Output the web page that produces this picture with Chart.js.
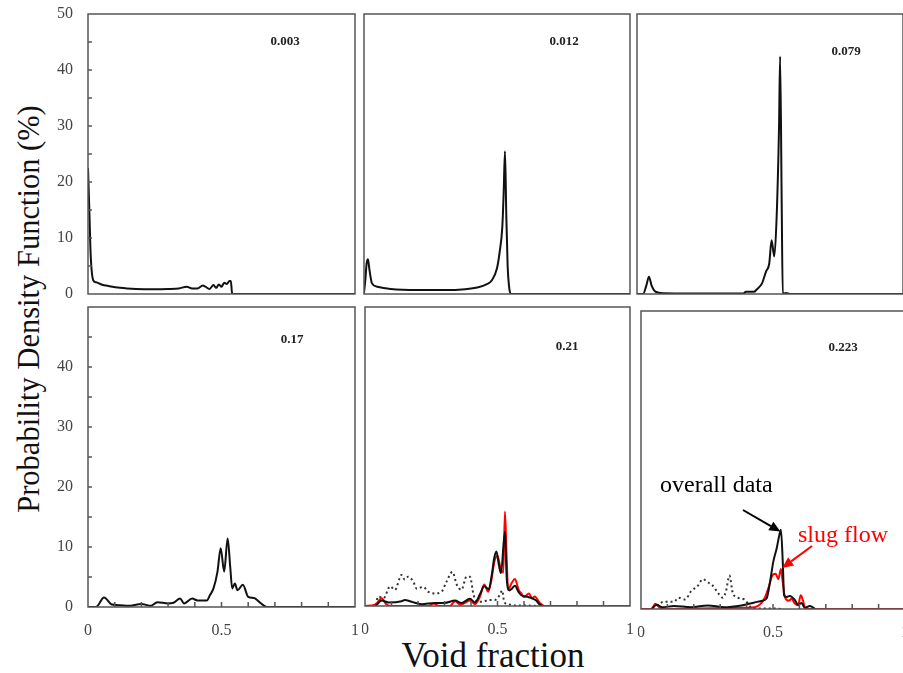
<!DOCTYPE html>
<html>
<head>
<meta charset="utf-8">
<script src="https://cdn.jsdelivr.net/npm/chart.js@4"></script>
<style>
    body { margin: 0; width: 903px; height: 673px; overflow: hidden; background: #fff; position: relative; font-family: "Liberation Serif", "Times New Roman", serif; }
    canvas { position: absolute; }
    #ytitle { position: absolute; left: -181px; top: 291px; width: 420px; height: 36px; line-height: 36px; font-size: 30.5px; text-align: center; color: #111; transform: rotate(-90deg); white-space: nowrap; }
    #xtitle { position: absolute; left: 343px; top: 638px; width: 300px; line-height: 35px; font-size: 35px; text-align: center; color: #111; white-space: nowrap; }
</style>
</head>
<body>
<div id="ytitle">Probability Density Function (%)</div>
<div id="xtitle">Void fraction</div>
<script>
const panelLabels = ['0.003', '0.012', '0.079', '0.17', '0.21', '0.223'];
const yTickValues = [0, 10, 20, 30, 40, 50];
const xTickValues = [0, 0.5, 1];

// 0.003
const vf1 = [0, 0.005, 0.01, 0.02, 0.03, 0.05, 0.08, 0.12, 0.18, 0.25, 0.3, 0.34, 0.37, 0.39, 0.41, 0.43, 0.44, 0.455, 0.47, 0.48, 0.49, 0.5, 0.51, 0.52, 0.53, 0.535, 0.54, 1];
const pdf1 = [22.5, 15, 7, 2.4, 2.1, 1.7, 1.4, 1.1, 0.9, 0.85, 0.9, 1.0, 1.3, 1.0, 1.0, 1.5, 1.3, 0.9, 1.6, 1.1, 1.7, 1.3, 2.0, 1.8, 2.3, 2.3, 0, 0];

// 0.012
const vf2 = [0, 0.005, 0.01, 0.015, 0.02, 0.03, 0.05, 0.1, 0.2, 0.3, 0.38, 0.43, 0.46, 0.48, 0.5, 0.51, 0.52, 0.525, 0.53, 0.535, 0.54, 0.545, 0.552, 1];
const pdf2 = [0.2, 2.5, 5.5, 6.2, 4.5, 1.9, 1.3, 0.9, 0.7, 0.7, 0.85, 1.2, 1.7, 2.4, 4.6, 7.5, 12, 18, 25.5, 14, 5, 1.5, 0, 0];

// 0.079
const vf3 = [0, 0.023, 0.035, 0.045, 0.055, 0.07, 0.1, 0.2, 0.3, 0.4, 0.41, 0.44, 0.45, 0.47, 0.485, 0.497, 0.506, 0.516, 0.525, 0.534, 0.538, 0.544, 0.548, 0.56, 0.575, 1];
const pdf3 = [0, 0, 1.5, 3.1, 1.5, 0.4, 0.15, 0.1, 0.1, 0.1, 0.4, 0.4, 0.8, 1.9, 4.0, 5.4, 9.6, 6.7, 13.8, 30, 42.4, 16, 0, 0.2, 0, 0];

// 0.17
const vf4 = [0, 0.03, 0.06, 0.09, 0.12, 0.15, 0.2, 0.235, 0.26, 0.3, 0.32, 0.345, 0.36, 0.39, 0.41, 0.445, 0.457, 0.47, 0.485, 0.497, 0.51, 0.523, 0.533, 0.54, 0.55, 0.56, 0.58, 0.6, 0.622, 0.64, 0.66, 0.67, 1];
const pdf4 = [0, 0, 1.6, 0.4, 0.3, 0.2, 0.5, 0.2, 0.8, 0.6, 0.7, 1.4, 0.6, 1.4, 1.1, 1.1, 2.0, 3.1, 5.9, 9.8, 5.9, 11.4, 6.5, 3.1, 3.9, 2.8, 3.7, 1.7, 1.5, 0.9, 0.2, 0, 0];

// 0.21
const vf5Overall = [0.04, 0.063, 0.088, 0.138, 0.15, 0.176, 0.213, 0.264, 0.3, 0.34, 0.364, 0.396, 0.415, 0.434, 0.45, 0.467, 0.478, 0.488, 0.496, 0.505, 0.513, 0.528, 0.535, 0.545, 0.554, 0.566, 0.58, 0.59, 0.616, 0.635, 0.646, 0.66, 0.673];
const pdf5Overall = [0, 0.9, 0.6, 0.8, 1.0, 0.7, 0.3, 0.5, 0.5, 0.9, 0.5, 1.2, 0.6, 2.0, 3.3, 2.8, 5.1, 8.1, 9.1, 6.9, 5.5, 12.4, 4.5, 2.6, 2.9, 3.4, 2.3, 1.8, 1.5, 1.2, 0.9, 0.2, 0];
const vf5Slug = [0, 0.038, 0.063, 0.08, 0.1, 0.24, 0.258, 0.28, 0.32, 0.34, 0.36, 0.396, 0.415, 0.434, 0.45, 0.465, 0.478, 0.488, 0.5, 0.513, 0.522, 0.528, 0.535, 0.54, 0.554, 0.566, 0.58, 0.59, 0.6, 0.619, 0.63, 0.64, 0.66, 0.677, 1];
const pdf5Slug = [0, 0.2, 1.3, 0.3, 0, 0, 0.4, 0, 0, 0.8, 0.2, 0.9, 0.3, 1.6, 3.6, 2.4, 4.6, 7.4, 8.4, 6.0, 5.6, 15.8, 7.5, 2.7, 3.9, 4.5, 2.7, 2.1, 1.5, 2.1, 1.3, 1.6, 0.5, 0, 0];
const vf5Other = [0.04, 0.05, 0.07, 0.095, 0.113, 0.138, 0.15, 0.163, 0.182, 0.195, 0.22, 0.238, 0.264, 0.289, 0.308, 0.33, 0.346, 0.364, 0.383, 0.396, 0.41, 0.427, 0.446, 0.465, 0.49, 0.508, 0.518, 0.525, 0.54, 0.566, 0.6, 0.65];
const pdf5Other = [0.2, 1.6, 1.3, 3.3, 2.7, 5.2, 4.4, 4.9, 4.1, 2.9, 3.2, 2.4, 2.1, 2.4, 4.1, 5.7, 3.6, 2.7, 4.9, 4.9, 1.8, 0.7, 0.7, 1.0, 1.0, 1.8, 2.6, 0.7, 0.3, 0.1, 0.1, 0];

// 0.223
const vf6Overall = [0.04, 0.06, 0.08, 0.125, 0.19, 0.253, 0.316, 0.38, 0.43, 0.46, 0.476, 0.489, 0.501, 0.514, 0.523, 0.53, 0.537, 0.542, 0.552, 0.564, 0.583, 0.595, 0.608, 0.62, 0.64, 0.66];
const pdf6Overall = [0, 0.7, 0.3, 0.5, 0.3, 0.6, 0.3, 0.6, 1.1, 1.4, 1.8, 4.6, 7.9, 10.2, 12.2, 13.3, 7.9, 2.3, 2.0, 2.2, 1.5, 0.7, 1.0, 0.2, 0.5, 0];
const vf6Slug = [0, 0.04, 0.054, 0.072, 0.1, 0.38, 0.43, 0.454, 0.47, 0.484, 0.497, 0.51, 0.52, 0.53, 0.537, 0.545, 0.56, 0.57, 0.583, 0.595, 0.605, 0.615, 0.622, 1];
const pdf6Slug = [0, 0, 0.9, 0.2, 0, 0.2, 0.3, 0.9, 2.0, 3.7, 5.6, 5.9, 5.0, 6.7, 4.5, 2.0, 1.4, 1.7, 0.9, 0.6, 2.3, 1.2, 0, 0];
const vf6Other = [0.06, 0.085, 0.125, 0.142, 0.167, 0.19, 0.215, 0.234, 0.253, 0.272, 0.29, 0.31, 0.322, 0.335, 0.347, 0.366, 0.391, 0.417, 0.442, 0.493, 0.53];
const pdf6Other = [0.5, 1.2, 1.2, 1.9, 1.6, 3.0, 3.9, 5.0, 4.5, 3.9, 2.8, 1.9, 3.0, 5.6, 2.8, 1.9, 1.6, 0.3, 0.1, 0.1, 0];

const tickFont = { family: '"Liberation Serif", "Times New Roman", serif', size: 16 };

function pts(xs, ys) {
    return xs.map((x, i) => ({ x: x, y: ys[i] }));
}

function line(xs, ys, kind) {
    let ds = {
        data: pts(xs, ys),
        borderColor: '#111',
        borderWidth: 2,
        pointRadius: 0,
        fill: false,
        cubicInterpolationMode: 'monotone',
        order: 0
    };
    if (kind === 'slug') {
        ds.borderColor = '#ff0000';
        ds.order = 1;
    }
    if (kind === 'other') {
        ds.borderColor = '#333';
        ds.borderDash = [2, 3];
        ds.order = 2;
    }
    return ds;
}

function drawArrow(ctx, x1, y1, x2, y2, color) {
    let ang = Math.atan2(y2 - y1, x2 - x1);
    let hl = 11, hw = 5;
    let bx = x2 - hl * Math.cos(ang), by = y2 - hl * Math.sin(ang);
    ctx.strokeStyle = color;
    ctx.fillStyle = color;
    ctx.lineWidth = 2;
    ctx.beginPath();
    ctx.moveTo(x1, y1);
    ctx.lineTo(bx, by);
    ctx.stroke();
    ctx.beginPath();
    ctx.moveTo(x2, y2);
    ctx.lineTo(bx + hw * Math.sin(ang), by - hw * Math.cos(ang));
    ctx.lineTo(bx - hw * Math.sin(ang), by + hw * Math.cos(ang));
    ctx.closePath();
    ctx.fill();
}

// scales should not push the plot area in; the panel boxes are fixed
function noPad(s) {
    s.paddingTop = 0;
    s.paddingBottom = 0;
    s.paddingLeft = 0;
    s.paddingRight = 0;
}

const framePlugin = {
    id: 'frame',
    afterDraw(chart, args, opts) {
        const ctx = chart.ctx, a = chart.chartArea;
        const x = chart.scales.x, y = chart.scales.y;
        ctx.save();
        ctx.strokeStyle = '#555';
        ctx.lineWidth = 1.5;
        ctx.strokeRect(a.left, a.top, a.right - a.left, a.bottom - a.top);
        ctx.beginPath();
        if (opts.yMinor) {
            for (let v = 5; v < 50; v += 5) {
                let py = y.getPixelForValue(v);
                ctx.moveTo(a.left, py);
                ctx.lineTo(a.left + 4, py);
            }
        }
        if (opts.xMinor) {
            for (let i = 1; i < 10; i++) {
                let px = x.getPixelForValue(i / 10);
                ctx.moveTo(px, a.bottom);
                ctx.lineTo(px, a.bottom - 5);
            }
        }
        ctx.stroke();
        ctx.font = 'bold 13px "Liberation Serif", serif';
        ctx.fillStyle = '#222';
        ctx.textAlign = 'center';
        ctx.textBaseline = 'middle';
        ctx.fillText(opts.label, a.left + opts.dx, a.top + opts.dy);

        if (opts.notes) {
            ctx.font = '24px "Liberation Serif", serif';
            ctx.textAlign = 'left';
            ctx.textBaseline = 'alphabetic';
            ctx.fillStyle = '#000';
            ctx.fillText('overall data', a.left + 19, a.top + 181);
            drawArrow(ctx, a.left + 102, a.top + 199, x.getPixelForValue(0.528), y.getPixelForValue(13.0), '#000');
            ctx.fillStyle = '#ff0000';
            ctx.fillText('slug flow', a.left + 157, a.top + 231);
            drawArrow(ctx, a.left + 171, a.top + 235, x.getPixelForValue(0.535), y.getPixelForValue(6.9), '#ff0000');
        }
        ctx.restore();
    }
};

function makePanel(box, opts) {
    let padL = opts.showY ? box.l : 3;
    let padT = opts.showY ? 12 : 3;
    let padB = opts.showX ? 40 : (opts.showY ? 12 : 3);
    let cv = document.createElement('canvas');
    let w = box.r - box.l + padL + 3;
    let h = box.b - box.t + padT + padB;
    cv.width = w;
    cv.height = h;
    cv.style.left = (box.l - padL) + 'px';
    cv.style.top = (box.t - padT) + 'px';
    cv.style.width = w + 'px';
    cv.style.height = h + 'px';
    document.body.appendChild(cv);

    let yTicks = opts.topRow ? yTickValues : yTickValues.filter(v => v < 50);

    new Chart(cv.getContext('2d'), {
        type: 'line',
        data: { datasets: opts.datasets },
        plugins: [framePlugin],
        options: {
            responsive: false,
            animation: false,
            devicePixelRatio: 1,
            layout: {
                autoPadding: false,
                padding: { left: opts.showY ? 0 : 3, top: padT, right: 3, bottom: opts.showX ? 0 : padB }
            },
            plugins: {
                legend: { display: false },
                tooltip: { enabled: false },
                frame: { label: opts.label, dx: opts.dx, dy: opts.dy, yMinor: opts.showY, xMinor: opts.showX, notes: opts.notes }
            },
            scales: {
                x: {
                    type: 'linear',
                    min: 0,
                    max: 1,
                    display: opts.showX,
                    afterFit: s => { s.height = opts.showX ? 40 : 0; noPad(s); },
                    afterBuildTicks: s => { s.ticks = xTickValues.map(v => ({ value: v })); },
                    grid: { display: false, drawTicks: false },
                    border: { display: false },
                    ticks: { padding: 14, color: '#444', font: tickFont, maxRotation: 0, autoSkip: false, callback: v => String(v) }
                },
                y: {
                    type: 'linear',
                    min: 0,
                    max: 50,
                    display: opts.showY,
                    afterFit: s => { s.width = opts.showY ? box.l : 0; noPad(s); },
                    afterBuildTicks: s => { s.ticks = yTicks.map(v => ({ value: v })); },
                    grid: { display: false, drawTicks: false },
                    border: { display: false },
                    ticks: { padding: 15, color: '#444', font: tickFont, autoSkip: false, callback: v => String(v) }
                }
            }
        }
    });
}

makePanel({ l: 88, t: 14, r: 355, b: 294 }, {
    showY: true, showX: false, topRow: true, label: panelLabels[0], dx: 197, dy: 28,
    datasets: [line(vf1, pdf1)]
});
makePanel({ l: 364, t: 14, r: 630, b: 294 }, {
    showY: false, showX: false, topRow: true, label: panelLabels[1], dx: 200, dy: 28,
    datasets: [line(vf2, pdf2)]
});
makePanel({ l: 637, t: 14, r: 903, b: 294 }, {
    showY: false, showX: false, topRow: true, label: panelLabels[2], dx: 209, dy: 38,
    datasets: [line(vf3, pdf3)]
});
makePanel({ l: 88, t: 307, r: 355, b: 607 }, {
    showY: true, showX: true, topRow: false, label: panelLabels[3], dx: 204, dy: 33,
    datasets: [line(vf4, pdf4)]
});
makePanel({ l: 365, t: 307, r: 630, b: 606 }, {
    showY: false, showX: true, topRow: false, label: panelLabels[4], dx: 202, dy: 40,
    datasets: [line(vf5Overall, pdf5Overall), line(vf5Slug, pdf5Slug, 'slug'), line(vf5Other, pdf5Other, 'other')]
});
makePanel({ l: 641, t: 311, r: 905, b: 609 }, {
    showY: false, showX: true, topRow: false, label: panelLabels[5], dx: 202, dy: 37, notes: true,
    datasets: [line(vf6Overall, pdf6Overall), line(vf6Slug, pdf6Slug, 'slug'), line(vf6Other, pdf6Other, 'other')]
});
</script>
</body>
</html>
